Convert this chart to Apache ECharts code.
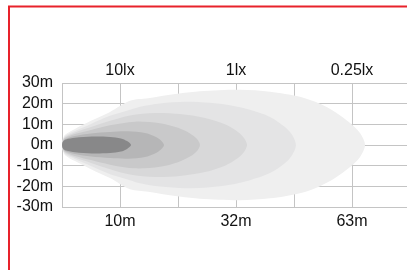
<!DOCTYPE html>
<html>
<head>
<meta charset="utf-8">
<script src="https://cdn.jsdelivr.net/npm/echarts@6/dist/echarts.min.js"></script>
<style>
html,body{margin:0;padding:0;background:#fff;}
#chart{width:407px;height:270px;}
</style>
</head>
<body>
<div id="chart"></div>
<script>
// Tick labels (indexed by x tick position 0..5)
const bottomLabels = ['', '10m', '', '32m', '', '63m'];
const topLabels = ['', '10lx', '', '1lx', '', '0.25lx'];
const yMin = -30, yMax = 30, yStep = 10;

// Beam contours: upper outline of each illuminance zone (x in grid columns, y in metres)
const zone6X = [0, 0.017, 0.052, 0.224, 0.5, 0.828, 1.172, 1.483, 1.862, 2.379, 3.069, 3.586, 4.103, 4.448, 4.707, 4.966, 5.138, 5.224];
const zone6Y = [0, 2.9, 4.9, 7.8, 11.7, 16.0, 21.4, 22.6, 24.3, 26.0, 26.7, 25.8, 23.3, 19.9, 16.0, 10.7, 5.8, 0];
const zone5X = [0, 0.017, 0.052, 0.224, 0.5, 0.828, 1.172, 1.345, 1.69, 2.121, 2.552, 2.897, 3.241, 3.586, 3.845, 3.966, 4.034];
const zone5Y = [0, 2.4, 4.4, 6.8, 10.2, 14.1, 17.0, 18.5, 20.1, 20.9, 20.4, 19.2, 17.0, 13.6, 8.7, 4.9, 0];
const zone4X = [0, 0.017, 0.052, 0.224, 0.5, 0.828, 1.172, 1.603, 2.034, 2.466, 2.810, 3.034, 3.138, 3.190];
const zone4Y = [0, 2.2, 3.9, 6.1, 8.7, 11.7, 14.3, 15.5, 15.0, 13.1, 10.0, 6.3, 3.4, 0];
const zone3X = [0, 0.017, 0.052, 0.224, 0.5, 0.828, 1.259, 1.690, 2.0, 2.207, 2.328, 2.379];
const zone3Y = [0, 1.9, 3.4, 5.3, 7.3, 9.5, 11.3, 10.5, 8.3, 5.6, 2.9, 0];
const zone2X = [0, 0.017, 0.052, 0.224, 0.5, 0.828, 1.138, 1.431, 1.603, 1.707, 1.759];
const zone2Y = [0, 1.7, 2.9, 4.4, 5.6, 6.3, 6.6, 5.8, 4.1, 2.2, 0];
const zone1X = [0, 0.017, 0.069, 0.224, 0.517, 0.828, 1.017, 1.121, 1.190];
const zone1Y = [0, 1.7, 2.7, 3.5, 4.1, 3.9, 3.2, 1.9, 0];

const zones = [
  {xs: zone6X, ys: zone6Y, color: '#efefef'},
  {xs: zone5X, ys: zone5Y, color: '#e4e4e5'},
  {xs: zone4X, ys: zone4Y, color: '#d8d8d9'},
  {xs: zone3X, ys: zone3Y, color: '#c9c9ca'},
  {xs: zone2X, ys: zone2Y, color: '#b6b6b7'},
  {xs: zone1X, ys: zone1Y, color: '#888889'}
];

const chart = echarts.init(document.getElementById('chart'), null, {renderer: 'canvas'});
const font = 'Liberation Sans';
const gridColor = '#c4c4c4';

const series = zones.map(function (z) {
  return {
    type: 'custom',
    xAxisIndex: 0,
    yAxisIndex: 0,
    data: [[0, 0]],
    silent: true,
    clip: true,
    renderItem: function (params, api) {
      const pts = [];
      for (let i = 0; i < z.xs.length; i++) pts.push(api.coord([z.xs[i], z.ys[i]]));
      for (let i = z.xs.length - 2; i > 0; i--) pts.push(api.coord([z.xs[i], -z.ys[i]]));
      return {
        type: 'polygon',
        shape: {points: pts, smooth: 0.3},
        style: {fill: z.color, stroke: null}
      };
    }
  };
});

chart.setOption({
  animation: false,
  backgroundColor: '#ffffff',
  grid: {left: 62, width: 348, top: 83, bottom: 63, containLabel: false, outerBoundsMode: 'none'},
  xAxis: [{
    type: 'value', min: 0, max: 6, interval: 1, position: 'bottom',
    axisLine: {show: false}, axisTick: {show: false},
    splitLine: {show: true, lineStyle: {color: gridColor, width: 1}},
    axisLabel: {
      margin: 7, fontFamily: font, fontSize: 16, color: '#111',
      formatter: function (v) { const i = Math.round(v); return (Math.abs(v - i) < 1e-6 && bottomLabels[i]) ? bottomLabels[i] : ''; }
    }
  }, {
    type: 'value', min: 0, max: 6, interval: 1, position: 'top',
    axisLine: {show: false}, axisTick: {show: false}, splitLine: {show: false},
    axisLabel: {
      margin: 4, fontFamily: font, fontSize: 16, color: '#111',
      formatter: function (v) { const i = Math.round(v); return (Math.abs(v - i) < 1e-6 && topLabels[i]) ? topLabels[i] : ''; }
    }
  }],
  yAxis: [{
    type: 'value', min: yMin, max: yMax, interval: yStep,
    axisLine: {show: false}, axisTick: {show: false},
    splitLine: {show: true, lineStyle: {color: gridColor, width: 1}},
    axisLabel: {margin: 9, fontFamily: font, fontSize: 16, color: '#111', formatter: function (v) { return v + 'm'; }}
  }],
  graphic: [
    {type: 'line', shape: {x1: 9, y1: 6, x2: 9, y2: 270}, style: {stroke: '#e8222b', lineWidth: 2}, z: 100},
    {type: 'line', shape: {x1: 8, y1: 6.5, x2: 407, y2: 6.5}, style: {stroke: '#e8222b', lineWidth: 2}, z: 100}
  ],
  series: series
});
</script>
</body>
</html>
